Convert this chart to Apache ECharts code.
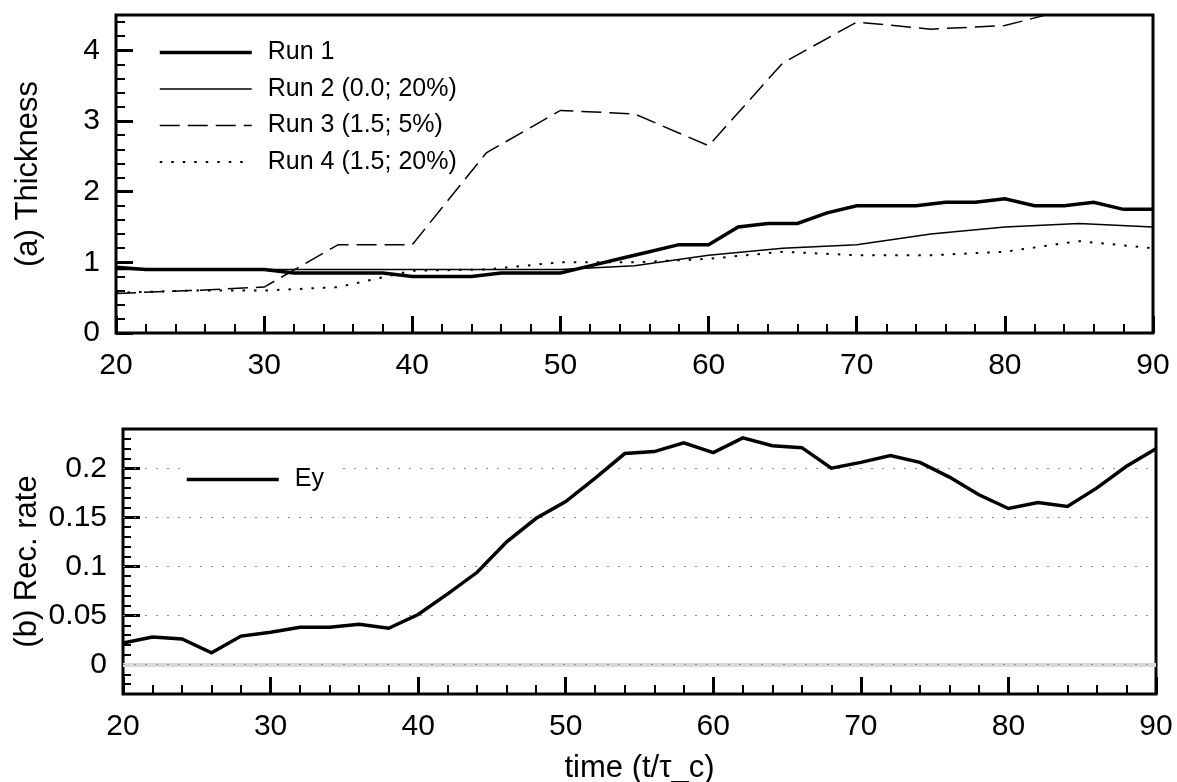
<!DOCTYPE html>
<html><head><meta charset="utf-8">
<script src="https://cdn.jsdelivr.net/npm/echarts@6/dist/echarts.min.js"></script>
<style>html,body{margin:0;padding:0;background:#fff}#c{width:1177px;height:782px}</style>
</head><body><div id="c"></div>
<script>
const FONT = "'Liberation Sans', Arial, Helvetica, sans-serif";

// ---- data ----
const run1Time = [20,22,24,26,28,30,32,34,36,38,40,42,44,46,48,50,52,54,56,58,60,62,64,66,68,70,72,74,76,78,80,82,84,86,88,90];
const run1Thick = [0.93,0.9,0.9,0.9,0.9,0.9,0.85,0.85,0.85,0.85,0.8,0.8,0.8,0.85,0.85,0.85,0.95,1.05,1.15,1.25,1.25,1.5,1.55,1.55,1.7,1.8,1.8,1.8,1.85,1.85,1.9,1.8,1.8,1.85,1.75,1.75];
const runTime = [20,25,30,35,40,45,50,55,60,65,70,75,80,85,90];
const run2Thick = [0.9,0.9,0.9,0.9,0.9,0.9,0.9,0.95,1.1,1.2,1.25,1.4,1.5,1.55,1.5];
const run3Thick = [0.56,0.6,0.65,1.25,1.25,2.55,3.15,3.1,2.65,3.82,4.4,4.3,4.35,4.62,4.8];
const run4Thick = [0.57,0.6,0.6,0.65,0.88,0.9,1.0,1.0,1.05,1.15,1.1,1.1,1.15,1.3,1.2];
const eyTime = [20,22,24,26,28,30,32,34,36,38,40,42,44,46,48,50,52,54,56,58,60,62,64,66,68,70,72,74,76,78,80,82,84,86,88,90];
const eyRate = [0.022,0.028,0.026,0.012,0.029,0.033,0.038,0.038,0.041,0.037,0.051,0.072,0.094,0.125,0.149,0.166,0.19,0.215,0.217,0.226,0.216,0.231,0.223,0.221,0.2,0.206,0.213,0.206,0.191,0.173,0.159,0.165,0.161,0.18,0.202,0.22];

const runNames = ['Run 1','Run 2 (0.0; 20%)','Run 3 (1.5; 5%)','Run 4 (1.5; 20%)'];
const eyName = 'Ey';
const thickTicks = [0,1,2,3,4];
const thickMinorTicks = [0.2,0.4,0.6,0.8,1.2,1.4,1.6,1.8,2.2,2.4,2.6,2.8,3.2,3.4,3.6,3.8,4.2,4.4];
const rateTicks = [0,0.05,0.1,0.15,0.2];
const rateMinorTicks = [-0.02,-0.01,0.01,0.02,0.03,0.04,0.06,0.07,0.08,0.09,0.11,0.12,0.13,0.14,0.16,0.17,0.18,0.19,0.21,0.22,0.23];
const yNameTop = '(a) Thickness';
const yNameBottom = '(b) Rec. rate';
const xName = 'time (t/\u03c4_c)';

// ---- styles ----
const runStyles = [
  {width:3.5, type:'solid'},
  {width:1.5, type:'solid'},
  {width:1.5, type:[20,8]},
  {width:2, type:[2.5,9]}
];

function zip(a,b){ return a.map((v,i)=>[v,b[i]]); }

function makeX(gi, extra){
  return Object.assign({
    type:'value', gridIndex:gi, min:20, max:90, interval:10,
    axisLine:{show:false, onZero:false},
    axisTick:{show:true, inside:true, length:17, lineStyle:{color:'#000', width:3}},
    minorTick:{show:true, splitNumber:5, length:9, lineStyle:{color:'#000', width:2}},
    splitLine:{show:false}, minorSplitLine:{show:false},
    axisLabel:{fontSize:30, color:'#000', fontFamily:FONT, margin:18}
  }, extra||{});
}
function makeYMinor(gi, min, max, ticks, len){
  return {
    type:'value', gridIndex:gi, min:min, max:max, position:'left',
    axisLine:{show:false, onZero:false},
    axisTick:{show:true, inside:true, length:len, customValues:ticks, lineStyle:{color:'#000', width:2}},
    axisLabel:{show:false},
    splitLine:{show:false}
  };
}

const series = [
  {name:runNames[0], data:zip(run1Time, run1Thick)},
  {name:runNames[1], data:zip(runTime, run2Thick)},
  {name:runNames[2], data:zip(runTime, run3Thick)},
  {name:runNames[3], data:zip(runTime, run4Thick)}
].map((s,i)=>({
  type:'line', name:s.name, xAxisIndex:0, yAxisIndex:0, data:s.data,
  symbol:'none', clip:true, animation:false,
  itemStyle:{color:'#000'},
  lineStyle:{color:'#000', width:runStyles[i].width, type:runStyles[i].type, join:'miter'}
}));

const gridLines = [{yAxis:0, lineStyle:{color:'#d9d9d9', width:4, type:'solid'}}]
  .concat(rateTicks.map(v=>({yAxis:v, lineStyle:{color:'#888', width:1.2, type:[2,9]}})));

series.push({
  type:'line', name:eyName, xAxisIndex:1, yAxisIndex:2, data:zip(eyTime, eyRate),
  symbol:'none', clip:true, animation:false,
  itemStyle:{color:'#000'},
  lineStyle:{color:'#000', width:3.5, join:'miter'},
  markLine:{silent:true, symbol:'none', z:1, animation:false, label:{show:false}, data:gridLines}
});

const legendText = {fontSize:25, fontFamily:FONT, color:'#000', padding:[0,0,0,11], lineHeight:25};
const option = {
  animation:false,
  backgroundColor:'#fff',
  textStyle:{fontFamily:FONT},
  grid:[
    {left:116, top:15, width:1037, height:318, show:true, borderColor:'#000', borderWidth:3, backgroundColor:'transparent', outerBoundsMode:'none', containLabel:false},
    {left:123, top:429, width:1033, height:265, show:true, borderColor:'#000', borderWidth:3, backgroundColor:'transparent', outerBoundsMode:'none', containLabel:false}
  ],
  xAxis:[
    makeX(0),
    makeX(1, {name:xName, nameLocation:'middle', nameGap:59, nameMoveOverlap:false, nameTextStyle:{fontSize:31, color:'#000', fontFamily:FONT}})
  ],
  yAxis:[
    {
      type:'value', gridIndex:0, min:0, max:4.5, interval:1, position:'left',
      name:yNameTop, nameLocation:'middle', nameGap:72, nameMoveOverlap:false,
      nameTextStyle:{fontSize:31, color:'#000', fontFamily:FONT},
      axisLine:{show:false, onZero:false},
      axisTick:{show:true, inside:true, length:17, customValues:thickTicks, lineStyle:{color:'#000', width:3}},
      axisLabel:{show:true, fontSize:30, color:'#000', fontFamily:FONT, margin:16,
        formatter:(v)=> thickTicks.indexOf(v) >= 0 ? String(v) : ''},
      splitLine:{show:false}
    },
    makeYMinor(0, 0, 4.5, thickMinorTicks, 9),
    {
      type:'value', gridIndex:1, min:-0.03, max:0.24, position:'left',
      name:yNameBottom, nameLocation:'middle', nameGap:80, nameMoveOverlap:false,
      nameTextStyle:{fontSize:31, color:'#000', fontFamily:FONT},
      axisLine:{show:false, onZero:false},
      axisTick:{show:true, inside:true, length:17, customValues:rateTicks, lineStyle:{color:'#000', width:3}},
      axisLabel:{show:true, customValues:rateTicks, fontSize:30, color:'#000', fontFamily:FONT, margin:16},
      splitLine:{show:false}
    },
    makeYMinor(1, -0.03, 0.24, rateMinorTicks, 8)
  ],
  legend:[
    {
      orient:'vertical', left:158, top:40, padding:0, itemWidth:92, itemHeight:25, itemGap:11.5,
      selectedMode:false, textStyle:legendText,
      data:runNames.map((n,i)=>({name:n,
        itemStyle:{color:'rgba(0,0,0,0)', borderWidth:0},
        lineStyle:{color:'#000', width:runStyles[i].width, type:runStyles[i].type}}))
    },
    {
      orient:'vertical', left:180, top:459, padding:[8,14,8,5], itemWidth:92, itemHeight:25,
      backgroundColor:'#fff', selectedMode:false, textStyle:legendText,
      data:[{name:eyName, itemStyle:{color:'rgba(0,0,0,0)', borderWidth:0},
        lineStyle:{color:'#000', width:3.5, type:'solid'}}]
    }
  ],
  series:series
};
const chart = echarts.init(document.getElementById('c'), null, {renderer:'canvas'});
chart.setOption(option);
</script>
</body></html>
